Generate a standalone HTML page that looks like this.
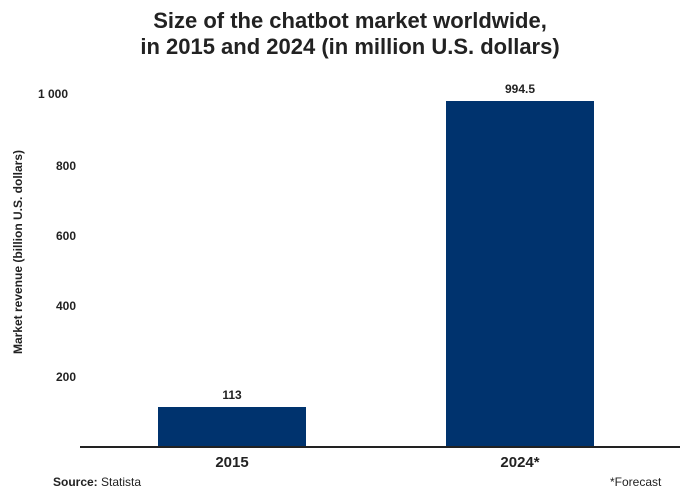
<!DOCTYPE html>
<html><head><meta charset="utf-8"><style>
body{margin:0;width:700px;height:498px;background:#fff;font-family:"Liberation Sans",sans-serif;position:relative;overflow:hidden}
.t{position:absolute;left:0;width:700px;text-align:center;font-weight:bold;font-size:22px;color:#222}
.a{position:absolute;font-size:12px;font-weight:bold;color:#222}
.bar{position:absolute;background:#00336e}
</style></head><body>
<div class="t" style="top:8px">Size of the chatbot market worldwide,</div>
<div class="t" style="top:34px">in 2015 and 2024 (in million U.S. dollars)</div>
<div class="a" style="left:38px;top:87px">1 000</div>
<div class="a" style="left:56px;top:159px">800</div>
<div class="a" style="left:56px;top:229px">600</div>
<div class="a" style="left:56px;top:299px">400</div>
<div class="a" style="left:56px;top:370px">200</div>
<div class="a" style="left:-92px;top:245px;width:220px;text-align:center;transform:rotate(-90deg);font-size:12px">Market revenue (billion U.S. dollars)</div>
<div class="bar" style="left:158px;top:407px;width:148px;height:40px"></div>
<div class="bar" style="left:446px;top:101px;width:148px;height:346px"></div>
<div class="a" style="left:158px;width:148px;text-align:center;top:388px">113</div>
<div class="a" style="left:446px;width:148px;text-align:center;top:82px">994.5</div>
<div style="position:absolute;left:80px;top:446px;width:600px;height:2px;background:#222"></div>
<div class="a" style="left:158px;width:148px;text-align:center;top:454px;font-size:15px">2015</div>
<div class="a" style="left:446px;width:148px;text-align:center;top:454px;font-size:15px">2024*</div>
<div style="position:absolute;left:53px;top:475px;font-size:12px;color:#222"><b>Source:</b> Statista</div>
<div style="position:absolute;left:610px;top:475px;font-size:12px;color:#222">*Forecast</div>
</body></html>
